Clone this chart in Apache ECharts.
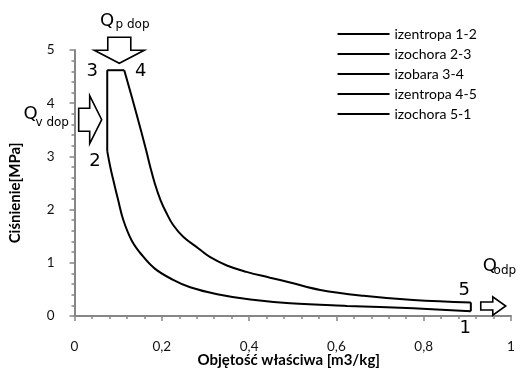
<!DOCTYPE html>
<html>
<head>
<meta charset="utf-8">
<script src="https://cdn.jsdelivr.net/npm/echarts@6/dist/echarts.min.js"></script>
<style>
  html, body { margin: 0; padding: 0; background: #fff; }
  #chart { width: 523px; height: 370px; }
</style>
</head>
<body>
<div id="chart"></div>
<script>
// Cycle on the p-v plane: specific volume [m3/kg] vs pressure [MPa]
const seriesNames = ['izentropa 1-2', 'izochora 2-3', 'izobara 3-4', 'izentropa 4-5', 'izochora 5-1'];

const izentropa12 = [
  [0.908, 0.09], [0.776, 0.145], [0.624, 0.19], [0.494, 0.24], [0.403, 0.31],
  [0.327, 0.41], [0.265, 0.54], [0.226, 0.68], [0.184, 0.89], [0.152, 1.17],
  [0.131, 1.42], [0.112, 1.80], [0.100, 2.18], [0.089, 2.55], [0.082, 2.80],
  [0.075, 3.10]
];
const izochora23 = [[0.075, 3.10], [0.075, 4.62]];
const izobara34 = [[0.075, 4.62], [0.114, 4.62]];
const izentropa45 = [
  [0.114, 4.62], [0.140, 3.86], [0.164, 3.12], [0.173, 2.82], [0.184, 2.49],
  [0.197, 2.18], [0.211, 1.93], [0.226, 1.71], [0.249, 1.49], [0.284, 1.27],
  [0.310, 1.11], [0.349, 0.95], [0.394, 0.83], [0.448, 0.72], [0.494, 0.63],
  [0.563, 0.49], [0.662, 0.38], [0.776, 0.30], [0.908, 0.255]
];
const izochora51 = [[0.908, 0.255], [0.908, 0.09]];

const xTickLabels = ['0', '0,2', '0,4', '0,6', '0,8', '1'];
const yTickLabels = ['0', '1', '2', '3', '4', '5'];

// Point numbers of the cycle: [text, v, p]
const pointLabels = [
  ['1', 0.895, -0.23],
  ['2', 0.047, 2.91],
  ['3', 0.0406, 4.60],
  ['4', 0.152, 4.60],
  ['5', 0.893, 0.49]
];

// Heat flow labels: [main, subscript, v, p of main, v, p of subscript]
const heatLabels = [
  ['Q', 'p dop', 0.0584, 5.54, 0.0939, 5.465],
  ['Q', 'v dop', -0.117, 3.80, -0.0894, 3.635],
  ['Q', 'odp', 0.935, 0.926, 0.960, 0.84]
];

// Block arrows: [shape, tip v, tip p]
const heatArrows = [
  ['down', 0.1026, 4.75],
  ['right', 0.0623, 3.69],
  ['smallRight', 0.988, 0.188]
];

const seriesData = [izentropa12, izochora23, izobara34, izentropa45, izochora51];

const labelFont = 'Lato, "Liberation Sans", sans-serif';
const markFont = '"DejaVu Sans", sans-serif';
const axisGrey = '#868686';

const chart = echarts.init(document.getElementById('chart'), null, { renderer: 'canvas' });

chart.setOption({
  animation: false,
  backgroundColor: '#fff',
  grid: { left: 74.5, right: 12, top: 50, bottom: 54, outerBoundsMode: 'none' },
  legend: {
    orient: 'vertical',
    left: 337.5,
    top: 26.5,
    padding: 0,
    icon: 'rect',
    itemWidth: 52,
    itemHeight: 2,
    itemGap: 5,
    data: seriesNames,
    textStyle: { fontFamily: labelFont, fontSize: 14, color: '#000', lineHeight: 15 }
  },
  xAxis: {
    type: 'value',
    min: 0, max: 1, interval: 0.2,
    name: 'Objętość właściwa [m3/kg]',
    nameLocation: 'middle',
    nameGap: 37,
    nameMoveOverlap: false,
    nameTextStyle: { fontFamily: labelFont, fontWeight: 'bold', fontSize: 15, color: '#000', padding: [0, 8, 0, 0] },
    axisLine: { show: true, lineStyle: { color: axisGrey, width: 2 } },
    axisTick: { show: true, length: 5, lineStyle: { color: axisGrey, width: 1.5 } },
    minorTick: { show: true, splitNumber: 5, length: 3, lineStyle: { color: axisGrey, width: 1.5 } },
    splitLine: { show: false },
    axisLabel: {
      margin: 24,
      fontFamily: labelFont, fontSize: 13.5, color: '#111',
      formatter: (v, i) => xTickLabels[i]
    }
  },
  yAxis: {
    type: 'value',
    min: 0, max: 5, interval: 1,
    name: 'Ciśnienie[MPa]',
    nameLocation: 'middle',
    nameGap: 52,
    nameMoveOverlap: false,
    nameRotate: 90,
    nameTextStyle: { fontFamily: labelFont, fontWeight: 'bold', fontSize: 15, color: '#000', padding: [0, 20, 0, 0] },
    axisLine: { show: true, lineStyle: { color: axisGrey, width: 2 } },
    axisTick: { show: true, length: 5, lineStyle: { color: axisGrey, width: 1.5 } },
    minorTick: { show: true, splitNumber: 5, length: 3, lineStyle: { color: axisGrey, width: 1.5 } },
    splitLine: { show: false },
    axisLabel: {
      margin: 20,
      fontFamily: labelFont, fontSize: 13.5, color: '#111',
      formatter: (v, i) => yTickLabels[i]
    }
  },
  series: seriesNames.map((name, k) => ({
    name,
    type: 'line',
    data: seriesData[k],
    showSymbol: false,
    symbol: 'none',
    smooth: (k === 0 || k === 3) ? 0.4 : false,
    lineStyle: { color: '#000', width: 2 },
    itemStyle: { color: '#000' },
    z: 3
  }))
});

// Annotation layer: point numbers, heat labels and block arrows placed in data units
function px(v, p) {
  return chart.convertToPixel({ gridIndex: 0 }, [v, p]);
}

const graphics = [];

pointLabels.forEach(([t, v, p]) => {
  const [x, y] = px(v, p);
  graphics.push({
    type: 'text', x, y, z: 10,
    style: { text: t, font: '18px ' + markFont, fill: '#000', textAlign: 'center', textVerticalAlign: 'middle' }
  });
});

heatLabels.forEach(([main, sub, v1, p1, v2, p2]) => {
  const [x1, y1] = px(v1, p1);
  const [x2, y2] = px(v2, p2);
  graphics.push({
    type: 'text', x: x1, y: y1, z: 10,
    style: { text: main, font: '18px ' + markFont, fill: '#000', textAlign: 'left', textVerticalAlign: 'middle' }
  });
  graphics.push({
    type: 'text', x: x2, y: y2, z: 10,
    style: { text: sub, font: '12px ' + markFont, fill: '#000', textAlign: 'left', textVerticalAlign: 'middle' }
  });
});

const arrowShapes = {
  down: [[-11.5, -26], [11.5, -26], [11.5, -13], [25, -13], [0, 0], [-25, -13], [-11.5, -13]],
  right: [[-23, -11.5], [-12, -11.5], [-12, -24], [0, 0], [-12, 24], [-12, 11.5], [-23, 11.5]],
  smallRight: [[-25, -4], [-13, -4], [-13, -9.2], [0, 0], [-13, 9.2], [-13, 4], [-25, 4]]
};

heatArrows.forEach(([kind, v, p]) => {
  const [x, y] = px(v, p);
  graphics.push({
    type: 'polygon', z: 10,
    shape: { points: arrowShapes[kind].map(([dx, dy]) => [x + dx, y + dy]) },
    style: { fill: '#fff', stroke: '#000', lineWidth: 1.6 }
  });
});

chart.setOption({ graphic: graphics });
</script>
</body>
</html>
